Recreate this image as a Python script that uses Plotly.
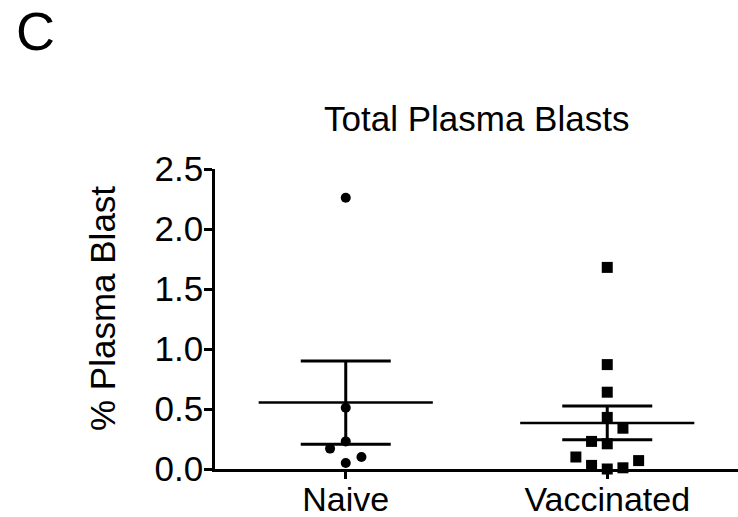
import numpy as np
import plotly.graph_objects as go

categories = ["Naive", "Vaccinated"]
naive_values = [2.26, 0.51, 0.23, 0.17, 0.10, 0.05]
vaccinated_values = [1.68, 0.87, 0.64, 0.43, 0.34, 0.23, 0.21, 0.10, 0.07, 0.03, 0.01, 0.00]
y_ticks = [0.0, 0.5, 1.0, 1.5, 2.0, 2.5]
title_text = "Total Plasma Blasts"
y_title = "% Plasma Blast"
panel_label = "C"

# horizontal scatter offsets (layout only)
naive_offsets = [0, 0, 0, -0.06, 0.06, 0]
vacc_offsets = [0, 0, 0, 0, 0.06, -0.06, 0, -0.12, 0.12, -0.06, 0.06, 0]

FONT = "Liberation Sans, Arial, Helvetica, sans-serif"
W, H = 738, 517
L, R, T, B = 215, 0, 169, 48

groups = [
    (1, naive_values, naive_offsets, "circle", 10),
    (2, vaccinated_values, vacc_offsets, "square", 11),
]

fig = go.Figure()
for cx, vals, offs, sym, sz in groups:
    arr = np.array(vals)
    mean = arr.mean()
    sem = arr.std(ddof=1) / np.sqrt(len(arr))
    fig.add_trace(go.Scatter(
        x=[cx - 0.333, cx + 0.333], y=[mean, mean], mode="lines",
        line=dict(color="black", width=2.5), hoverinfo="skip", showlegend=False))
    fig.add_trace(go.Scatter(
        x=[cx], y=[mean], mode="markers", marker=dict(size=1, opacity=0),
        error_y=dict(type="data", array=[sem], visible=True, thickness=3,
                     width=45, color="black"),
        hoverinfo="skip", showlegend=False))
    fig.add_trace(go.Scatter(
        x=[cx + o for o in offs], y=vals, mode="markers",
        marker=dict(symbol=sym, size=sz, color="black", line=dict(width=0)),
        cliponaxis=False, showlegend=False))

fig.update_layout(
    width=W, height=H,
    margin=dict(l=L, r=R, t=T, b=B),
    paper_bgcolor="white", plot_bgcolor="white",
    font=dict(family=FONT, color="black", size=35),
    showlegend=False,
    xaxis=dict(range=[0.5, 2.5], tickvals=[1, 2], ticktext=categories,
               showgrid=False, zeroline=False, showline=True, linecolor="black",
               linewidth=2.5, ticks="outside", ticklen=7, tickwidth=2.5,
               tickcolor="black", tickfont=dict(size=34, family=FONT),
               automargin=False, ticklabelstandoff=-9),
    yaxis=dict(range=[0, 2.5], tickvals=y_ticks, tickformat=".1f",
               showgrid=False, zeroline=False, showline=True, linecolor="black",
               linewidth=2.5, ticks="outside", ticklen=8, tickwidth=2.5,
               tickcolor="black", tickfont=dict(size=35, family=FONT),
               automargin=False, ticklabelstandoff=-6),
)

plot_w = W - L - R
plot_h = H - T - B
fig.add_annotation(text=title_text, xref="paper", yref="paper",
                   x=0.5, y=(H - B - 119) / plot_h, xanchor="center", yanchor="middle",
                   showarrow=False, font=dict(size=35, family=FONT))
fig.add_annotation(text=y_title, xref="paper", yref="paper",
                   x=(102 - L) / plot_w, y=(H - B - 309) / plot_h, textangle=-90,
                   xanchor="center", yanchor="middle",
                   showarrow=False, font=dict(size=35, family=FONT))
fig.add_annotation(text=panel_label, xref="paper", yref="paper",
                   x=(14 - L) / plot_w, y=(H - B - 31) / plot_h, xanchor="left", yanchor="middle",
                   showarrow=False, font=dict(size=54, family=FONT))

fig.write_html("out.html")
